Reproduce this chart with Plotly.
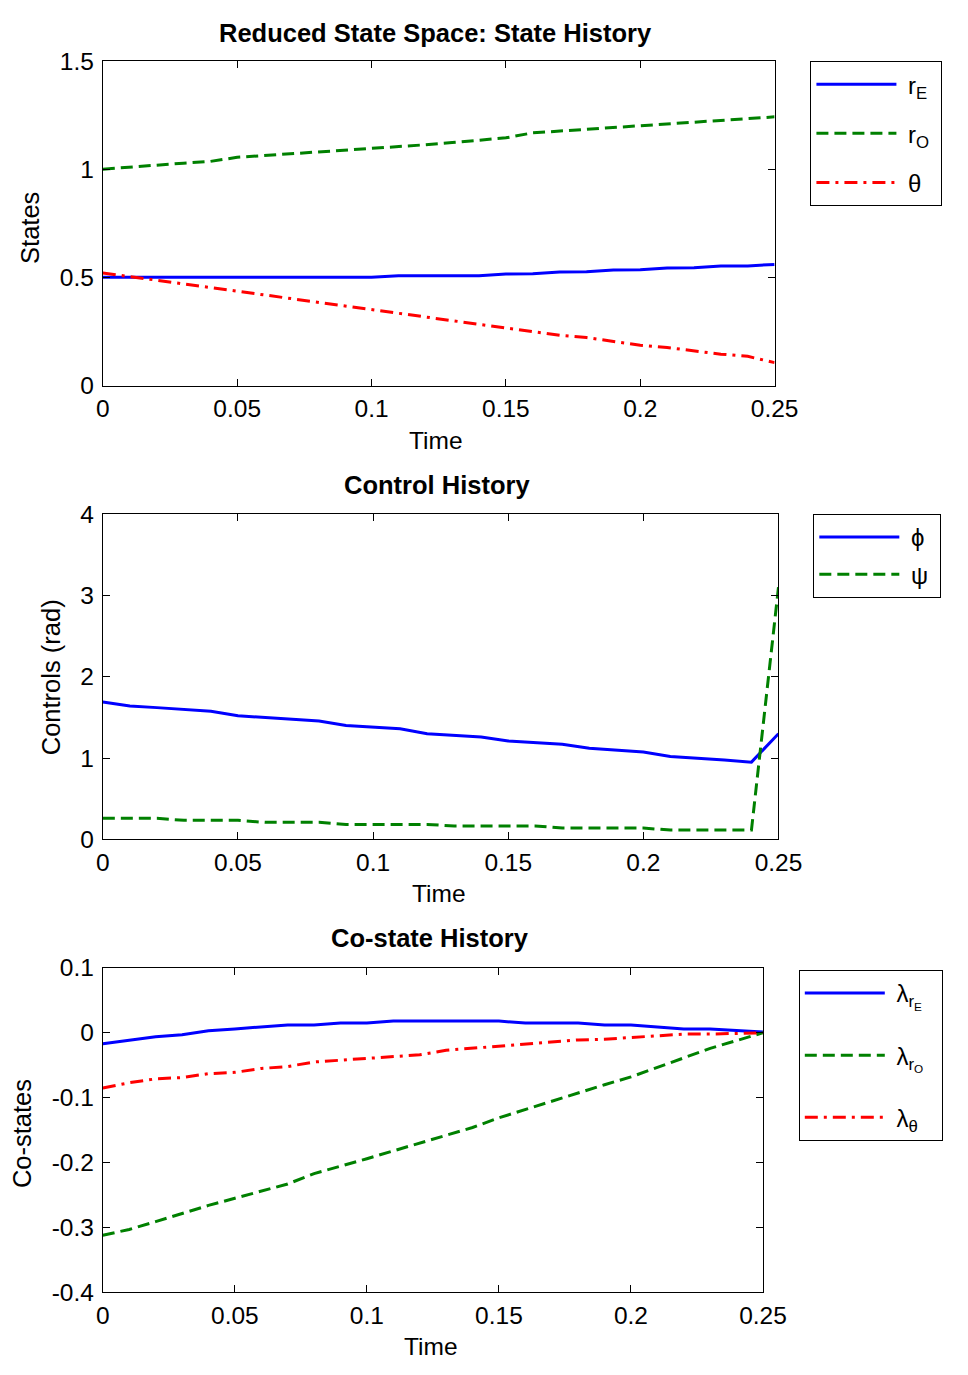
import plotly.graph_objects as go

# ---------------- data ----------------
time = [0.00, 0.01, 0.02, 0.03, 0.04, 0.05, 0.06, 0.07, 0.08, 0.09,
        0.10, 0.11, 0.12, 0.13, 0.14, 0.15, 0.16, 0.17, 0.18, 0.19,
        0.20, 0.21, 0.22, 0.23, 0.24, 0.25]

r_E = [0.500, 0.500, 0.500, 0.500, 0.500, 0.500, 0.500, 0.500, 0.500, 0.500,
       0.500, 0.507, 0.508, 0.508, 0.508, 0.516, 0.517, 0.525, 0.526, 0.534,
       0.535, 0.543, 0.544, 0.552, 0.553, 0.560]
r_O = [1.000, 1.010, 1.020, 1.028, 1.036, 1.055, 1.063, 1.071, 1.079, 1.087,
       1.095, 1.103, 1.113, 1.123, 1.133, 1.145, 1.168, 1.176, 1.184, 1.192,
       1.200, 1.208, 1.216, 1.224, 1.232, 1.242]
theta = [0.520, 0.505, 0.487, 0.470, 0.453, 0.437, 0.420, 0.402, 0.385, 0.368,
         0.351, 0.334, 0.318, 0.300, 0.283, 0.265, 0.249, 0.232, 0.222, 0.205,
         0.186, 0.176, 0.162, 0.145, 0.135, 0.106]

phi = [1.69, 1.64, 1.62, 1.60, 1.575, 1.52, 1.50, 1.48, 1.455, 1.40,
       1.38, 1.36, 1.30, 1.28, 1.26, 1.21, 1.19, 1.17, 1.12, 1.095,
       1.075, 1.02, 1.00, 0.975, 0.95, 1.30]
psi = [0.26, 0.26, 0.26, 0.235, 0.235, 0.235, 0.21, 0.21, 0.21, 0.185,
       0.185, 0.185, 0.185, 0.165, 0.165, 0.165, 0.165, 0.14, 0.14, 0.14,
       0.14, 0.115, 0.115, 0.115, 0.115, 3.10]

lam_rE = [-0.017, -0.011, -0.006, -0.003, 0.003, 0.006, 0.009, 0.012, 0.012, 0.015,
          0.015, 0.018, 0.018, 0.018, 0.018, 0.018, 0.015, 0.015, 0.015, 0.012,
          0.012, 0.009, 0.006, 0.006, 0.003, 0.001]
lam_rO = [-0.312, -0.303, -0.291, -0.278, -0.266, -0.255, -0.244, -0.233, -0.217, -0.206,
          -0.194, -0.182, -0.170, -0.158, -0.146, -0.131, -0.118, -0.105, -0.092, -0.080,
          -0.068, -0.053, -0.039, -0.024, -0.012, 0.000]
lam_th = [-0.085, -0.077, -0.071, -0.069, -0.063, -0.061, -0.055, -0.052, -0.045, -0.042,
          -0.040, -0.037, -0.034, -0.027, -0.024, -0.021, -0.018, -0.014, -0.011, -0.010,
          -0.007, -0.004, -0.002, -0.002, -0.001, 0.000]

x_tickvals = [0, 0.05, 0.1, 0.15, 0.2, 0.25]
x_ticktext = ["0", "0.05", "0.1", "0.15", "0.2", "0.25"]
y1_tickvals = [0, 0.5, 1, 1.5]
y1_ticktext = ["0", "0.5", "1", "1.5"]
y2_tickvals = [0, 1, 2, 3, 4]
y2_ticktext = ["0", "1", "2", "3", "4"]
y3_tickvals = [-0.4, -0.3, -0.2, -0.1, 0, 0.1]
y3_ticktext = ["-0.4", "-0.3", "-0.2", "-0.1", "0", "0.1"]

# ---------------- styling ----------------
W, H = 968, 1375
FONT = "Liberation Sans, Arial, Helvetica, sans-serif"
FS_TICK = 24.5
FS_LABEL = 24.5
FS_YLABEL = 25.5
FS_TITLE = 25.5
FS_LEG = 24
BLUE, GREEN, RED = "#0000FF", "#008000", "#FF0000"
LW = 3
DASH = "12px,6px"
DASHDOT = "13px,6px,3px,6px"
NB = "\u00a0"  # padding inside the legend boxes


def px(x):
    return x / W


def py(y):
    return 1 - y / H


fig = go.Figure()

series = [
    (time, r_E, NB + "r<sub>E</sub>" + NB, BLUE, "solid", "x", "y", "legend"),
    (time, r_O, NB + "r<sub>O</sub>" + NB, GREEN, DASH, "x", "y", "legend"),
    (time, theta, NB + "θ" + NB, RED, DASHDOT, "x", "y", "legend"),
    (time, phi, NB + "ϕ" + NB, BLUE, "solid", "x2", "y2", "legend2"),
    (time, psi, NB + "ψ" + NB, GREEN, DASH, "x2", "y2", "legend2"),
    (time, lam_rE, NB + "λ<sub>r<sub>E</sub></sub>" + NB + NB, BLUE, "solid", "x3", "y3", "legend3"),
    (time, lam_rO, NB + "λ<sub>r<sub>O</sub></sub>" + NB + NB, GREEN, DASH, "x3", "y3", "legend3"),
    (time, lam_th, NB + "λ<sub>θ</sub>" + NB + NB, RED, DASHDOT, "x3", "y3", "legend3"),
]
for i, (xs, ys, name, col, dash, xa, ya, lg) in enumerate(series):
    fig.add_trace(go.Scatter(
        x=xs, y=ys, name=name, mode="lines",
        line=dict(color=col, width=LW, dash=dash),
        xaxis=xa, yaxis=ya, legend=lg, legendgroup="g%d" % i,
    ))

axis_common = dict(
    showline=True, linecolor="black", linewidth=1, mirror="ticks",
    ticks="inside", ticklen=7, tickcolor="black", tickwidth=1,
    showgrid=False, zeroline=False,
    tickfont=dict(family=FONT, size=FS_TICK, color="black"),
)

plots = [
    # x0, x1, ytop, ybottom, yrange, yticks, ytext
    (99, 793, 49, 380, [0, 1.5], y1_tickvals, y1_ticktext),
    (99, 797, 511, 843, [0, 4], y2_tickvals, y2_ticktext),
    (99, 781, 974, 1305, [-0.4, 0.1], y3_tickvals, y3_ticktext),
]
layout = {}
for k, (x0, x1, yt, yb, yr, yv, ytx) in enumerate(plots):
    sfx = "" if k == 0 else str(k + 1)
    layout["xaxis" + sfx] = dict(
        axis_common, domain=[px(x0), px(x1)], range=[0, 0.25],
        tickvals=x_tickvals, ticktext=x_ticktext, anchor="y" + sfx,
        ticklabelstandoff=1,
    )
    layout["yaxis" + sfx] = dict(
        axis_common, domain=[py(yb), py(yt)], range=yr,
        tickvals=yv, ticktext=ytx, anchor="x" + sfx,
        ticklabelstandoff=3,
    )

legend_common = dict(
    bordercolor="black", borderwidth=1, bgcolor="white",
    font=dict(family=FONT, size=FS_LEG, color="black"),
    itemwidth=80, xanchor="left", yanchor="top",
)
layout["legend"] = dict(legend_common, x=px(830), y=py(49), tracegroupgap=15)
layout["legend2"] = dict(legend_common, x=px(833), y=py(511), tracegroupgap=3)
layout["legend3"] = dict(legend_common, x=px(818), y=py(976), tracegroupgap=28)

annotations = []
titles = [("Reduced State Space: State History", 443, 20),
          ("Control History", 444, 481),
          ("Co-state History", 437, 944)]
for txt, x, y in titles:
    annotations.append(dict(text="<b>" + txt + "</b>", x=px(x), y=py(y), xref="paper", yref="paper",
                            xanchor="center", yanchor="middle", showarrow=False,
                            font=dict(family=FONT, size=FS_TITLE, color="black")))
xlabels = [(443, 436), (446, 898), (438, 1360)]
for x, y in xlabels:
    annotations.append(dict(text="Time", x=px(x), y=py(y), xref="paper", yref="paper",
                            xanchor="center", yanchor="middle", showarrow=False,
                            font=dict(family=FONT, size=FS_LABEL, color="black")))
ylabels = [("States", 23, 219), ("Controls (rad)", 45, 678), ("Co-states", 15, 1143)]
for txt, x, y in ylabels:
    annotations.append(dict(text=txt, x=px(x), y=py(y), xref="paper", yref="paper",
                            xanchor="center", yanchor="middle", showarrow=False, textangle=-90,
                            font=dict(family=FONT, size=FS_YLABEL, color="black")))

fig.update_layout(
    width=W, height=H, margin=dict(l=0, r=0, t=0, b=0),
    paper_bgcolor="white", plot_bgcolor="white",
    showlegend=True, annotations=annotations, **layout,
)

fig.write_html("out.html", post_script="document.body.style.margin='0px';")
